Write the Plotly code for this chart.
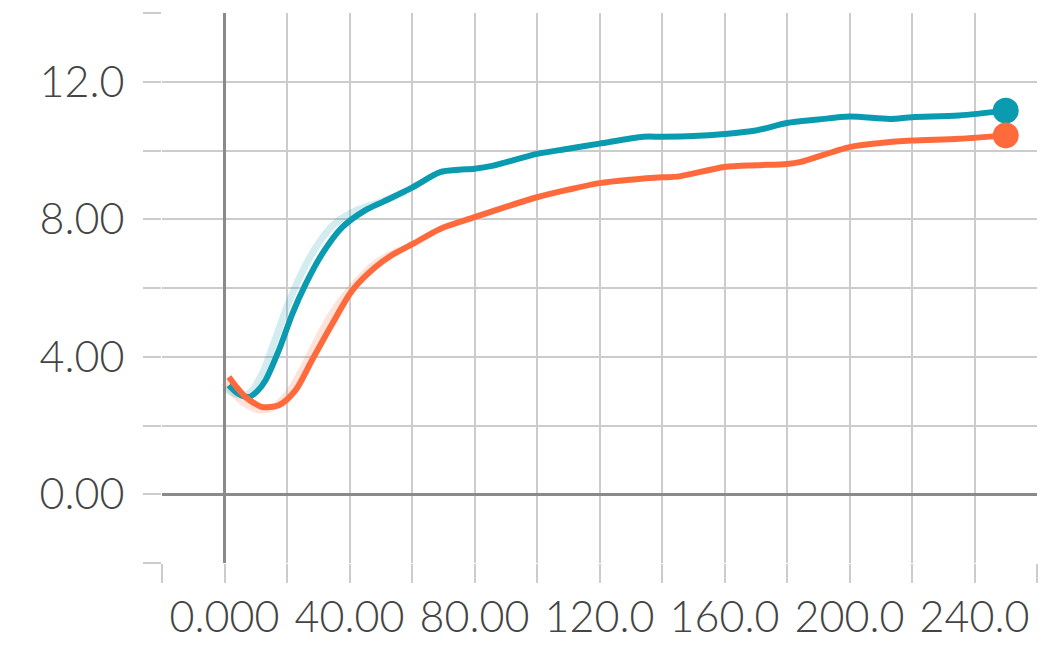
import plotly.graph_objects as go

# Smoothed series (step, value)
teal_x = [1.4, 4, 7.8, 10.5, 13.1, 17.4, 21.7, 26, 31.3, 37.7, 45, 51, 60, 69, 75, 80, 86, 100, 110, 120, 134, 140, 150, 160, 170, 180, 190, 200, 213, 220, 235, 250]
teal_y = [3.17, 2.95, 2.83, 3.00, 3.31, 4.19, 5.25, 6.12, 7.00, 7.77, 8.26, 8.52, 8.92, 9.37, 9.44, 9.47, 9.56, 9.90, 10.05, 10.20, 10.40, 10.40, 10.42, 10.48, 10.58, 10.80, 10.90, 10.99, 10.92, 10.97, 11.02, 11.16]

orange_x = [1.4, 4, 6.7, 9.5, 12, 17.4, 22.7, 28, 34.5, 40.9, 48.3, 54, 61, 69, 80, 90, 100, 110, 120, 130, 140, 145, 160, 170, 180, 184, 200, 210, 220, 235, 250]
orange_y = [3.41, 3.10, 2.83, 2.65, 2.54, 2.59, 3.02, 3.90, 4.96, 5.93, 6.61, 6.98, 7.32, 7.72, 8.06, 8.36, 8.64, 8.86, 9.05, 9.15, 9.22, 9.24, 9.52, 9.57, 9.61, 9.66, 10.10, 10.22, 10.29, 10.34, 10.44]

# Faint raw series (visible only near the early rise)
teal_raw_x = [0, 4, 8, 12, 16, 20, 24, 29, 35, 42, 50, 58]
teal_raw_y = [3.10, 2.90, 2.95, 3.50, 4.45, 5.45, 6.30, 7.15, 7.85, 8.25, 8.50, 8.80]
orange_raw_x = [0, 5, 10, 15, 20, 25, 30, 35, 40, 48, 56]
orange_raw_y = [3.25, 2.75, 2.48, 2.50, 2.90, 3.65, 4.55, 5.35, 5.95, 6.70, 7.10]

x_tickvals = [-20, 0, 20, 40, 60, 80, 100, 120, 140, 160, 180, 200, 220, 240, 260]
x_ticktext = ["", "0.000", "", "40.00", "", "80.00", "", "120.0", "", "160.0", "", "200.0", "", "240.0", ""]
y_tickvals = [-2, 0, 2, 4, 6, 8, 10, 12, 14]
y_ticktext = ["", "0.00", "", "4.00", "", "8.00", "", "12.0", ""]

TEAL = "#0a9bb0"
ORANGE = "#ff6a3d"

fig = go.Figure()
fig.add_trace(go.Scatter(x=teal_raw_x, y=teal_raw_y, mode="lines",
                         line=dict(color=TEAL, width=7, shape="spline"), opacity=0.18,
                         hoverinfo="skip", showlegend=False))
fig.add_trace(go.Scatter(x=orange_raw_x, y=orange_raw_y, mode="lines",
                         line=dict(color=ORANGE, width=7, shape="spline"), opacity=0.18,
                         hoverinfo="skip", showlegend=False))
fig.add_trace(go.Scatter(x=teal_x, y=teal_y, mode="lines",
                         line=dict(color=TEAL, width=6, shape="spline", smoothing=0.8),
                         showlegend=False))
fig.add_trace(go.Scatter(x=orange_x, y=orange_y, mode="lines",
                         line=dict(color=ORANGE, width=6, shape="spline", smoothing=0.8),
                         showlegend=False))
fig.add_trace(go.Scatter(x=[teal_x[-1]], y=[teal_y[-1]], mode="markers",
                         marker=dict(color=TEAL, size=26), showlegend=False))
fig.add_trace(go.Scatter(x=[orange_x[-1]], y=[orange_y[-1]], mode="markers",
                         marker=dict(color=ORANGE, size=26), showlegend=False))

font = dict(family="Lato, Liberation Sans, sans-serif", size=43, color="#444444", weight=300)

fig.update_layout(
    width=1063, height=646,
    margin=dict(l=162, r=26, t=13, b=83),
    paper_bgcolor="white", plot_bgcolor="white",
    font=font,
    xaxis=dict(range=[-20, 260], tickmode="array", tickvals=x_tickvals, ticktext=x_ticktext,
               automargin=False,
               showgrid=True, gridcolor="#cccccc", gridwidth=1.5,
               zeroline=True, zerolinecolor="#8a8a8a", zerolinewidth=2.5,
               ticks="outside", ticklen=19, tickcolor="#cccccc", tickwidth=1.5,
               ticklabelstandoff=-3,
               showline=False, tickfont=font),
    yaxis=dict(range=[-2, 14], tickmode="array", tickvals=y_tickvals, ticktext=y_ticktext,
               automargin=False,
               showgrid=True, gridcolor="#cccccc", gridwidth=1.5,
               zeroline=True, zerolinecolor="#8a8a8a", zerolinewidth=2.5,
               ticks="outside", ticklen=18, tickcolor="#cccccc", tickwidth=1.5,
               ticklabelstandoff=10,
               showline=False, tickfont=font),
)

fig.write_html("out.html", config={"displayModeBar": False},
               post_script="document.body.style.margin='0';document.body.style.overflow='hidden';")
